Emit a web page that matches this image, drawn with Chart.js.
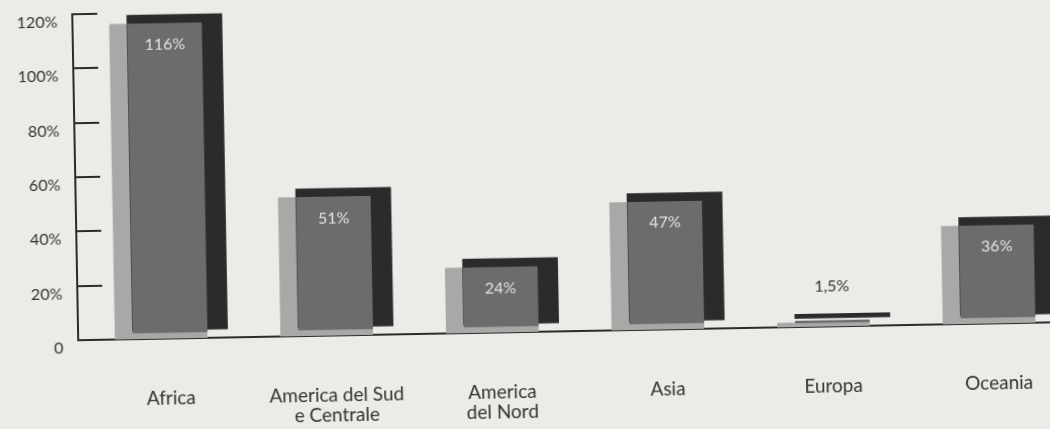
<!DOCTYPE html>
<html>
<head>
<meta charset="utf-8">
<script src="https://cdn.jsdelivr.net/npm/chart.js@4.4.1/dist/chart.umd.min.js"></script>
<style>
  html, body { margin: 0; padding: 0; background: #ebebe8; overflow: hidden; }
  #wrap {
    position: absolute; left: 0; top: 0; width: 1050px; height: 429px;
    transform: rotate(-1.05deg); transform-origin: 525px 214.5px;
  }
</style>
</head>
<body>
<div id="wrap"><canvas id="c" width="1050" height="429"></canvas></div>
<script>
// Chart data
const categories = ['Africa', ['America del Sud', 'e Centrale'], ['America', 'del Nord'], 'Asia', 'Europa', 'Oceania'];
const values = [116, 51, 24, 47, 1.5, 36];
const valueLabels = ['116%', '51%', '24%', '47%', '1,5%', '36%'];
const yTickValues = [0, 20, 40, 60, 80, 100, 120];
const yTickLabels = ['0', '20%', '40%', '60%', '80%', '100%', '120%'];

// Layout constants (pixels)
const AXIS_LEFT = 76;
const PLOT_RIGHT = 1050;
const X_MIN = -0.5556, X_MAX = 5.326;
const PX_PER_CAT = (PLOT_RIGHT - AXIS_LEFT) / (X_MAX - X_MIN);
const Y_PX_PER_UNIT = (332 - 6) / 120;

// pseudo-3D faces: light face sits left, dark face sits right and higher
const LIGHT_SHIFT_PX = -9;
const DARK_SHIFT_PX = 10;
const DARK_LIFT_PX = 8.7;

function shiftedX(px) {
  const d = -px / PX_PER_CAT;
  return { min: X_MIN + d, max: X_MAX + d };
}
const lightX = shiftedX(LIGHT_SHIFT_PX);
const darkX = shiftedX(DARK_SHIFT_PX);
const darkLift = DARK_LIFT_PX / Y_PX_PER_UNIT;

const points = values.map((v, i) => ({ x: i, y: v }));

const COL_TEXT = '#333333';
const COL_AXIS = '#2b2b2b';
const FONT = 'Lato, "Noto Sans", sans-serif';

const tickMarks = {
  id: 'tickMarks',
  afterDraw(chart) {
    const y = chart.scales.y;
    const ctx = chart.ctx;
    ctx.save();
    ctx.strokeStyle = COL_AXIS;
    ctx.lineWidth = 2;
    yTickValues.forEach(v => {
      if (v === 0) return;
      const py = Math.round(y.getPixelForValue(v));
      ctx.beginPath();
      ctx.moveTo(chart.chartArea.left - 1, py);
      ctx.lineTo(chart.chartArea.left + 25, py);
      ctx.stroke();
    });
    ctx.restore();
  }
};

const valueText = {
  id: 'valueText',
  afterDatasetsDraw(chart) {
    const meta = chart.getDatasetMeta(0);
    const ctx = chart.ctx;
    ctx.save();
    ctx.font = '16px ' + FONT;
    ctx.textAlign = 'center';
    ctx.textBaseline = 'middle';
    meta.data.forEach((el, i) => {
      if (values[i] < 10) {
        ctx.fillStyle = COL_TEXT;
        ctx.fillText(valueLabels[i], el.x, el.y - 36);
      } else {
        ctx.fillStyle = '#e2e2e0';
        ctx.fillText(valueLabels[i], el.x, el.y + 21);
      }
    });
    ctx.restore();
  }
};

const hiddenLinear = (r) => ({ type: 'linear', display: false, offset: false, min: r.min, max: r.max });

new Chart(document.getElementById('c'), {
  type: 'bar',
  data: {
    datasets: [
      { // front face
        data: points, xAxisID: 'x', yAxisID: 'y', grouped: false,
        backgroundColor: '#6c6d6b', barThickness: 74, base: 2.2
      },
      { // dark side face
        data: points, xAxisID: 'xDark', yAxisID: 'yDark', grouped: false,
        backgroundColor: '#2a2c2c', barThickness: 95
      },
      { // light side face
        data: points, xAxisID: 'xLight', yAxisID: 'y', grouped: false,
        backgroundColor: '#a8a9a7', barThickness: 92
      }
    ]
  },
  options: {
    responsive: false,
    devicePixelRatio: 1,
    animation: false,
    layout: { padding: { top: 6, right: 0, bottom: 0, left: 0 } },
    plugins: { legend: { display: false }, tooltip: { enabled: false } },
    scales: {
      x: {
        type: 'linear', position: 'bottom', offset: false, min: X_MIN, max: X_MAX,
        afterBuildTicks(s) { s.ticks = categories.map((_, i) => ({ value: i })); },
        afterFit(s) { s.height = 97; s.paddingLeft = 0; s.paddingRight = 0; },
        grid: { display: false, drawTicks: false, offset: false },
        border: { display: true, color: COL_AXIS, width: 2 },
        ticks: {
          padding: 50, maxRotation: 0, autoSkip: false,
          color: COL_TEXT, font: { family: FONT, size: 19, lineHeight: '20px' },
          callback: (v) => categories[v]
        }
      },
      xLight: hiddenLinear(lightX),
      xDark: hiddenLinear(darkX),
      y: {
        min: 0, max: 120,
        afterBuildTicks(s) { s.ticks = yTickValues.map(v => ({ value: v })); },
        afterFit(s) { s.width = AXIS_LEFT; s.paddingTop = 0; s.paddingBottom = 0; },
        grid: { display: false, drawTicks: false },
        border: { display: true, color: COL_AXIS, width: 2 },
        ticks: {
          padding: 15, labelOffset: 8,
          color: COL_TEXT, font: { family: FONT, size: 16 },
          callback: (v, i) => yTickLabels[i]
        }
      },
      yDark: { display: false, min: -darkLift, max: 120 - darkLift }
    }
  },
  plugins: [tickMarks, valueText]
});
</script>
</body>
</html>
